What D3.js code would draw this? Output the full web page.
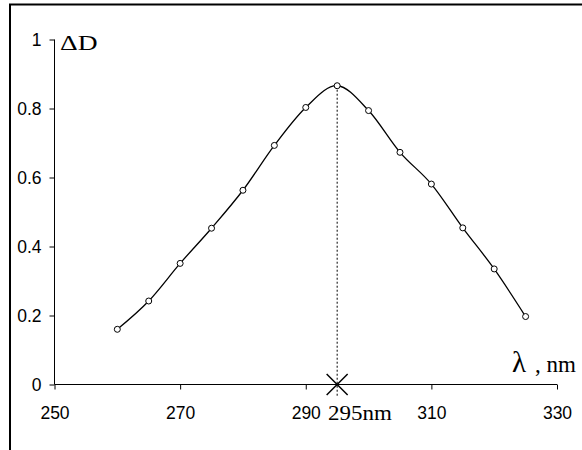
<!DOCTYPE html>
<html><head><meta charset="utf-8">
<script src="https://cdn.jsdelivr.net/npm/d3@7"></script>
<style>
html,body{margin:0;padding:0;background:#fff;}
svg{display:block;}
</style></head>
<body>
<script>
const wavelengths = [260,265,270,275,280,285,290,295,300,305,310,315,320,325];
const deltaD = [0.16,0.242,0.351,0.453,0.563,0.693,0.803,0.866,0.794,0.673,0.581,0.454,0.335,0.197];
const xTicks = [250,270,290,310,330];
const yTicks = [0,0.2,0.4,0.6,0.8,1];
const peakWavelength = 295;
const peakLabel = "295nm";

const W=582,H=450;
const svg=d3.select("body").append("svg").attr("width",W).attr("height",H);
svg.append("rect").attr("width",W).attr("height",H).attr("fill","#fff");
// frame (clipped at right/bottom)
svg.append("rect").attr("x",10).attr("y",4.5).attr("width",700).attr("height",600)
  .attr("fill","none").attr("stroke","#000").attr("stroke-width",2);

const x=d3.scaleLinear().domain([250,330]).range([54.5,557]);
const y=d3.scaleLinear().domain([0,1]).range([384.5,39.5]);

const yAxis=svg.append("g").attr("transform","translate(54.5,0)")
  .call(d3.axisLeft(y).tickValues(yTicks).tickSize(5).tickPadding(8).tickFormat(d=>d===0?"0":d===1?"1":d3.format(".1f")(d)));
const xAxis=svg.append("g").attr("transform","translate(0,384.5)")
  .call(d3.axisBottom(x).tickValues(xTicks).tickSize(5).tickPadding(17.5).tickFormat(d3.format("d")));
[yAxis,xAxis].forEach(g=>{
  g.select(".domain").attr("stroke","#000").attr("stroke-width",1);
  g.selectAll(".tick line").attr("stroke","#000");
  g.selectAll(".tick text").attr("font-family","'Liberation Sans',Arial,sans-serif").attr("font-size",17.5).attr("fill","#000");
});
yAxis.select(".domain").attr("d",`M0,${y(1)}V${y(0)}`);
xAxis.select(".domain").attr("d",`M${x(250)},0H${x(330)}`);

// dotted peak line
const peakIdx=wavelengths.indexOf(peakWavelength);
svg.append("line").attr("x1",x(peakWavelength)).attr("x2",x(peakWavelength))
  .attr("y1",y(deltaD[peakIdx])).attr("y2",y(0)+12)
  .attr("stroke","#000").attr("stroke-width",1).attr("stroke-dasharray","2,2");

// curve
const data=wavelengths.map((w,i)=>({w,v:deltaD[i]}));
svg.append("path").datum(data)
  .attr("d",d3.line().x(d=>x(d.w)).y(d=>y(d.v)).curve(d3.curveCardinal.tension(0)))
  .attr("fill","none").attr("stroke","#000").attr("stroke-width",1.3);
svg.selectAll("circle.pt").data(data).enter().append("circle")
  .attr("cx",d=>x(d.w)).attr("cy",d=>y(d.v)).attr("r",3)
  .attr("fill","#fff").attr("stroke","#000").attr("stroke-width",1);

// X marker
const cx=x(peakWavelength),cy=y(0),s=10.5;
svg.append("path").attr("d",`M${cx-s},${cy-s}L${cx+s},${cy+s}M${cx-s},${cy+s}L${cx+s},${cy-s}`)
  .attr("stroke","#000").attr("stroke-width",1.5);

// labels
const serif="'Liberation Serif','Times New Roman',serif";
svg.append("text").attr("transform","translate(60,50) scale(1.25,1)").attr("font-family",serif)
  .attr("font-size",22).text("ΔD");
svg.append("text").attr("x",512).attr("y",372).attr("font-family",serif).attr("font-size",29).text("λ");
svg.append("text").attr("x",535).attr("y",372).attr("font-family",serif).attr("font-size",23).text(", nm");
svg.append("text").attr("transform","translate(328,420) scale(1.15,1)").attr("font-family",serif)
  .attr("font-size",20).text(peakLabel);
</script>
</body></html>
